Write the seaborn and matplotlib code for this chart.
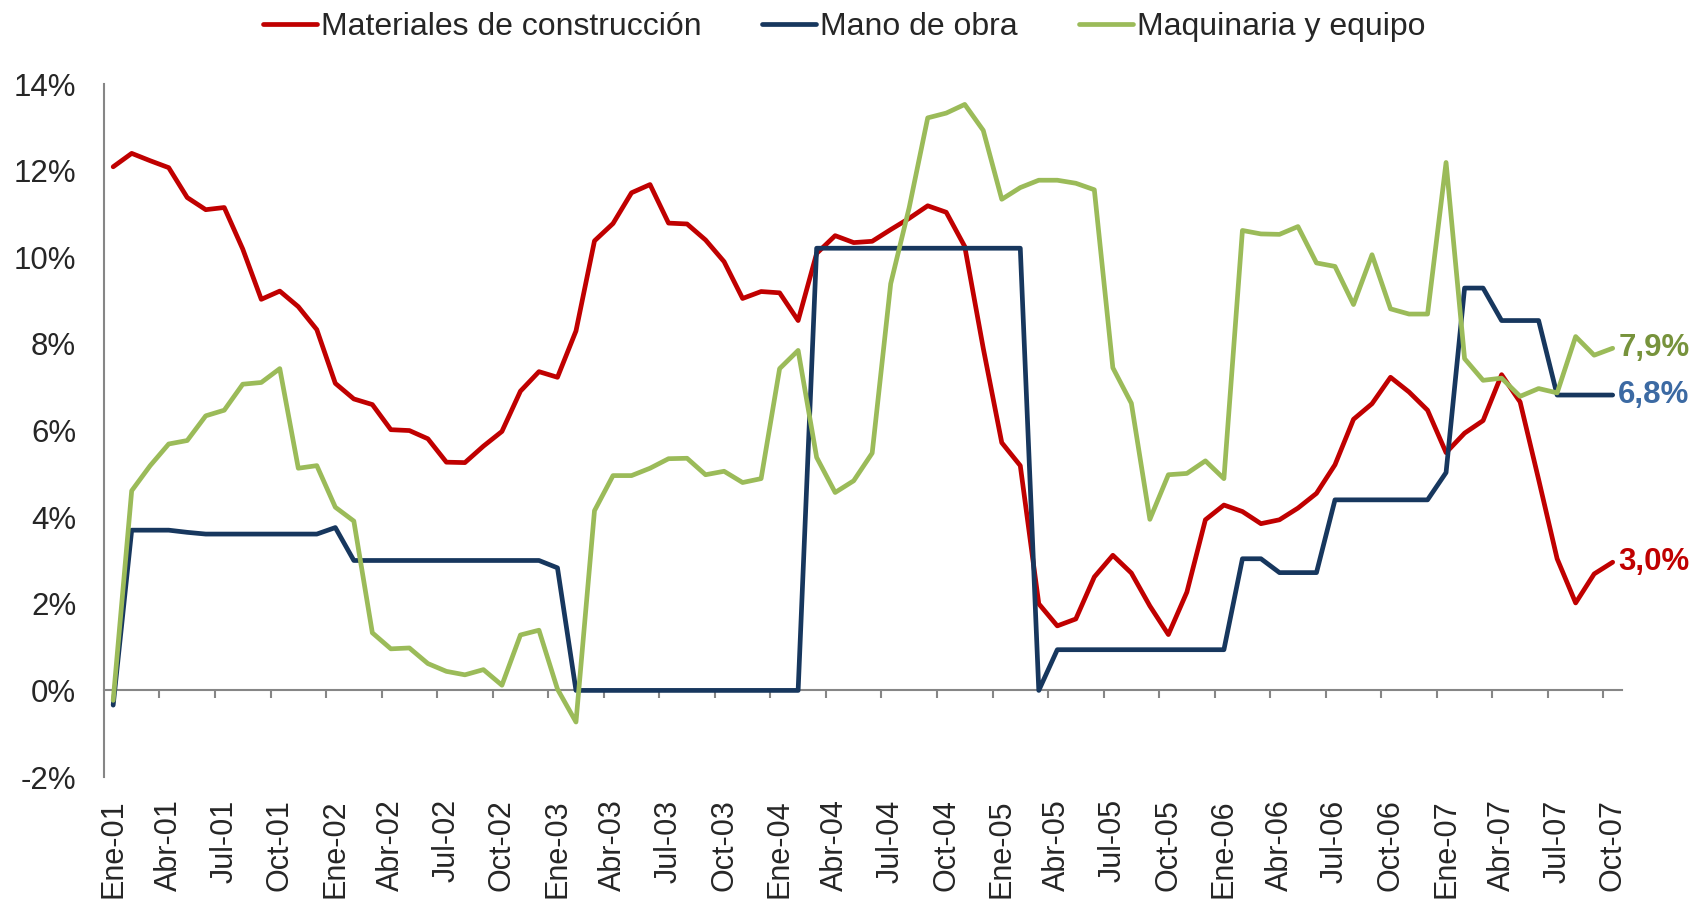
import pandas as pd
import seaborn as sns
import matplotlib.pyplot as plt

# -----------------------------------------------------------------------------
# Data: monthly % change, Ene-01 .. Oct-07
# -----------------------------------------------------------------------------
materiales = [12.09, 12.40, 12.23, 12.07, 11.38, 11.10, 11.15, 10.19, 9.03, 9.22,
              8.86, 8.33, 7.09, 6.73, 6.60, 6.02, 6.00, 5.81, 5.27, 5.26,
              5.64, 5.98, 6.91, 7.36, 7.23, 8.30, 10.38, 10.78, 11.49, 11.68,
              10.79, 10.77, 10.40, 9.90, 9.05, 9.21, 9.18, 8.54, 10.09, 10.50,
              10.34, 10.37, 10.64, 10.90, 11.19, 11.04, 10.25, 7.90, 5.72, 5.19,
              2.00, 1.49, 1.65, 2.62, 3.12, 2.71, 1.95, 1.29, 2.27, 3.94,
              4.28, 4.13, 3.85, 3.94, 4.21, 4.55, 5.21, 6.26, 6.62, 7.23,
              6.89, 6.47, 5.49, 5.94, 6.23, 7.29, 6.66, 4.87, 3.04, 2.02,
              2.69, 2.96]

mano_obra = [-0.34, 3.70, 3.70, 3.70, 3.65, 3.61, 3.61, 3.61, 3.61, 3.61,
             3.61, 3.61, 3.76, 3.00, 3.00, 3.00, 3.00, 3.00, 3.00, 3.00,
             3.00, 3.00, 3.00, 3.00, 2.83, 0.00, 0.00, 0.00, 0.00, 0.00,
             0.00, 0.00, 0.00, 0.00, 0.00, 0.00, 0.00, 0.00, 10.21, 10.21,
             10.21, 10.21, 10.21, 10.21, 10.21, 10.21, 10.21, 10.21, 10.21, 10.21,
             0.00, 0.94, 0.94, 0.94, 0.94, 0.94, 0.94, 0.94, 0.94, 0.94,
             0.94, 3.04, 3.04, 2.72, 2.72, 2.72, 4.40, 4.40, 4.40, 4.40,
             4.40, 4.40, 5.03, 9.29, 9.29, 8.54, 8.54, 8.54, 6.82, 6.82,
             6.82, 6.82]

maquinaria = [-0.23, 4.61, 5.19, 5.69, 5.77, 6.34, 6.47, 7.07, 7.11, 7.43,
              5.13, 5.19, 4.23, 3.91, 1.33, 0.96, 0.98, 0.62, 0.44, 0.36,
              0.48, 0.12, 1.28, 1.39, 0.03, -0.73, 4.15, 4.96, 4.96, 5.13,
              5.35, 5.36, 4.98, 5.06, 4.80, 4.89, 7.43, 7.85, 5.38, 4.57,
              4.84, 5.48, 9.39, 11.15, 13.22, 13.33, 13.53, 12.93, 11.34, 11.61,
              11.78, 11.78, 11.71, 11.56, 7.45, 6.63, 3.95, 4.98, 5.01, 5.30,
              4.89, 10.62, 10.54, 10.53, 10.71, 9.87, 9.79, 8.91, 10.06, 8.81,
              8.69, 8.69, 12.19, 7.66, 7.16, 7.21, 6.79, 6.97, 6.87, 8.17,
              7.74, 7.90]

series_names = ["Materiales de construcción", "Mano de obra", "Maquinaria y equipo"]
tick_labels = ["Ene-01", "Abr-01", "Jul-01", "Oct-01",
               "Ene-02", "Abr-02", "Jul-02", "Oct-02",
               "Ene-03", "Abr-03", "Jul-03", "Oct-03",
               "Ene-04", "Abr-04", "Jul-04", "Oct-04",
               "Ene-05", "Abr-05", "Jul-05", "Oct-05",
               "Ene-06", "Abr-06", "Jul-06", "Oct-06",
               "Ene-07", "Abr-07", "Jul-07", "Oct-07"]
y_ticks = [-2, 0, 2, 4, 6, 8, 10, 12, 14]

colours = ["#C00000", "#17375E", "#9BBB59"]
label_colours = ["#C00000", "#3C6AA3", "#77933C"]
grey = "#868686"

# Long-form table
n = len(materiales)
all_values = [materiales, mano_obra, maquinaria]
df = pd.DataFrame({
    "mes": list(range(n)) * 3,
    "valor": materiales + mano_obra + maquinaria,
    "serie": [name for name in series_names for _ in range(n)],
})

sns.set_style("white")
plt.rcParams["font.family"] = ["Liberation Sans", "DejaVu Sans"]

fig = plt.figure(figsize=(16.98, 9.05), dpi=100)
ax = fig.add_axes([0.0612, 0.1414, 0.8940, 0.7657])

sns.lineplot(x="mes", y="valor", hue="serie", hue_order=series_names, data=df,
             palette=colours, linewidth=3.4, sort=False, ax=ax,
             solid_joinstyle="round", solid_capstyle="round")

ax.set_xlim(-0.5, n - 0.5)
ax.set_ylim(y_ticks[0], y_ticks[-1])
ax.set(xlabel=None, ylabel=None)

# x labels at bottom, no marks there
ax.set_xticks(range(0, n, 3))
ax.set_xticklabels(tick_labels, rotation=90, fontsize=22)
ax.tick_params(axis="x", length=0, pad=16)

# y axis
ax.set_yticks(y_ticks)
ax.set_yticklabels([f"{t}%" for t in y_ticks], fontsize=22.5)
ax.tick_params(axis="y", length=6, width=1.5, color=grey, direction="out", pad=14)

for side in ["top", "right", "bottom"]:
    ax.spines[side].set_visible(False)
ax.spines["left"].set_color(grey)
ax.spines["left"].set_linewidth(1.5)

# category axis crossing at 0%
zero_pos = (0 - y_ticks[0]) / (y_ticks[-1] - y_ticks[0])
sec = ax.secondary_xaxis(zero_pos)
sec.set_xticks([i + 2.5 for i in range(0, n - 1, 3)])
sec.tick_params(axis="x", length=6, width=1.5, color=grey, direction="out", labelbottom=False)
sec.spines["bottom"].set_color(grey)
sec.spines["bottom"].set_linewidth(1.5)

# End labels
for vals, col in zip(all_values, label_colours):
    ax.annotate(f"{vals[-1]:.1f}%".replace(".", ","), xy=(n - 1, vals[-1]),
                xytext=(4, 0), textcoords="offset points", va="center", ha="left",
                fontsize=22.5, fontweight="bold", color=col, annotation_clip=False)

# Legend
handles, labels = ax.get_legend_handles_labels()
ax.legend(handles, labels, loc="center", bbox_to_anchor=(0.4875, 1.082), ncol=3,
          frameon=False, fontsize=23, handlelength=1.7, handletextpad=0.12,
          columnspacing=1.9)

plt.savefig("out.png", dpi=100)
